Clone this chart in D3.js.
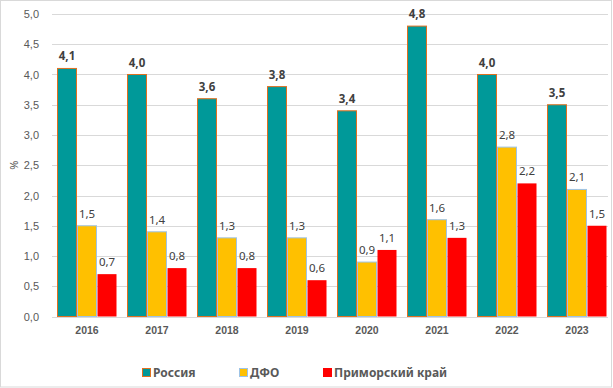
<!DOCTYPE html>
<html>
<head>
<meta charset="utf-8">
<script src="https://cdn.jsdelivr.net/npm/d3@7"></script>
<style>
  body { margin: 0; background: #fff; }
  svg { font-family: "Noto Sans", "Open Sans", sans-serif; }
</style>
</head>
<body>
<div id="chart"></div>
<script>
var width = 613
var height = 388
var margin = { top: 14, bottom: 71, left: 52, right: 1 };

// data
var years = ["2016", "2017", "2018", "2019", "2020", "2021", "2022", "2023"];
var russia = [4.1, 4.0, 3.6, 3.8, 3.4, 4.8, 4.0, 3.5];
var dfo = [1.5, 1.4, 1.3, 1.3, 0.9, 1.6, 2.8, 2.1];
var primorye = [0.7, 0.8, 0.8, 0.6, 1.1, 1.3, 2.2, 1.5];
var seriesNames = ["Россия", "ДФО", "Приморский край"];
var yTicks = [0, 0.5, 1, 1.5, 2, 2.5, 3, 3.5, 4, 4.5, 5];

var fills = ["#009999", "#FFC000", "#FF0000"];
var strokes = ["#E07020", "#9DC3E6", "none"];
var labelWeights = ["bold", "normal", "normal"];

var series = [russia, dfo, primorye];

var svg = d3.select("#chart").append("svg")
    .attr("width", width)
    .attr("height", height);

// outer frame
svg.append("rect")
    .attr("x", 0.5).attr("y", 0.5)
    .attr("width", width - 2).attr("height", height - 1.5)
    .attr("fill", "#fff")
    .attr("stroke", "#D9D9D9");

var x0 = d3.scaleBand()
    .domain(years)
    .range([margin.left, width - margin.right])
    .paddingInner(10 / 70)
    .paddingOuter(5 / 70);

var x1 = d3.scaleBand()
    .domain(d3.range(series.length))
    .range([0, x0.bandwidth()]);

var y = d3.scaleLinear()
    .domain([0, 5])
    .range([height - margin.bottom - 0.5, margin.top]);

// grid
svg.append("g")
    .selectAll("line")
    .data(yTicks)
    .join("line")
    .attr("x1", margin.left)
    .attr("x2", width - 5)
    .attr("y1", function(d) { return Math.round(y(d)) + 0.5; })
    .attr("y2", function(d) { return Math.round(y(d)) + 0.5; })
    .attr("stroke", "#D9D9D9");

// y axis
var yAxis = svg.append("g")
    .attr("transform", "translate(" + (margin.left - 10) + ",0)")
    .call(d3.axisLeft(y)
        .tickValues(yTicks)
        .tickSize(0)
        .tickFormat(function(d) { return d3.format(".1f")(d).replace(".", ","); }));
yAxis.select(".domain").remove();
yAxis.selectAll("text")
    .attr("fill", "#595959")
    .style("font-size", "11px");

svg.append("text")
    .attr("transform", "translate(18," + y(2.5) + ") rotate(-90)")
    .attr("text-anchor", "middle")
    .attr("fill", "#595959")
    .style("font-size", "11px")
    .text("%");

// x axis
var xAxis = svg.append("g")
    .attr("transform", "translate(0," + (height - margin.bottom) + ")")
    .call(d3.axisBottom(x0).tickSize(0).tickPadding(10));
xAxis.select(".domain").remove();
xAxis.selectAll("text")
    .attr("fill", "#595959")
    .style("font-size", "10.5px")
    .style("font-weight", "bold");

// bars
series.forEach(function(values, s) {
    var g = svg.append("g");
    g.selectAll("rect")
        .data(values)
        .join("rect")
        .attr("x", function(d, i) { return x0(years[i]) + x1(s) + 0.5; })
        .attr("y", function(d) { return y(d); })
        .attr("width", x1.bandwidth() - 1)
        .attr("height", function(d) { return y(0) - y(d); })
        .attr("fill", fills[s])
        .attr("stroke", strokes[s])
        .attr("stroke-width", 1);

    g.selectAll("text")
        .data(values)
        .join("text")
        .attr("x", function(d, i) { return x0(years[i]) + x1(s) + x1.bandwidth() / 2; })
        .attr("y", function(d) { return y(d) - 8; })
        .attr("text-anchor", "middle")
        .attr("fill", "#404040")
        .style("font-size", "11.5px")
        .style("font-weight", labelWeights[s])
        .text(function(d) { return d3.format(".1f")(d).replace(".", ","); });
});

// legend
var legendX = [142, 239, 323];
var legend = svg.append("g");
seriesNames.forEach(function(name, s) {
    legend.append("rect")
        .attr("x", legendX[s] + 0.5)
        .attr("y", 368.5)
        .attr("width", 8)
        .attr("height", 8)
        .attr("fill", fills[s])
        .attr("stroke", strokes[s] === "none" ? fills[s] : strokes[s]);
    legend.append("text")
        .attr("x", legendX[s] + 11)
        .attr("y", 377)
        .attr("fill", "#595959")
        .style("font-size", "12px")
        .style("font-weight", "bold")
        .text(name);
});
</script>
</body>
</html>
